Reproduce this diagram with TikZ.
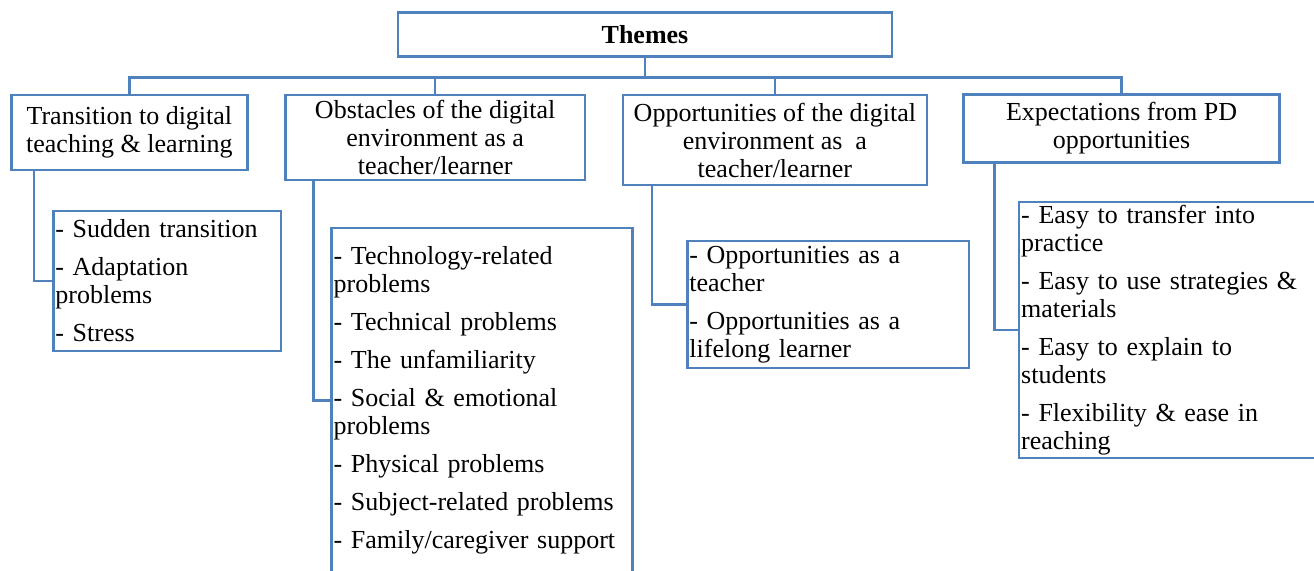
\documentclass[tikz,border=0pt]{standalone}
\usepackage{xcolor}
\usepackage{fontspec}
\setmainfont{Liberation Serif}
\usetikzlibrary{calc}

\definecolor{linkblue}{HTML}{4F81BD}

\begin{document}
\begin{tikzpicture}[
    x=1pt, y=-1pt,
    box/.style={rectangle, draw=linkblue, line width=1.25pt, fill=white, inner sep=1pt, font=\fontsize{13}{14}\selectfont},
    head/.style={box, align=center},
    itembox/.style={box, align=left},
    link/.style={draw=linkblue, line width=1.25pt}
]
\useasboundingbox (0,0) rectangle (657,285);

% Top node
\node[head, minimum width=247pt, minimum height=22pt, font=\fontsize{13}{14}\selectfont\bfseries] (themes) at (322.5,17.3) {Themes};

% Theme boxes
\node[head, minimum width=118pt, minimum height=37.5pt] (trans) at (64.7,66.25) {Transition to digital\\teaching \& learning};
\node[head, minimum width=149.8pt, minimum height=42.5pt] (obst) at (217.6,68.75) {Obstacles of the digital\\environment as a\\teacher/learner};
\node[head, minimum width=151.9pt, minimum height=45pt] (opp) at (387.45,70) {Opportunities of the digital\\environment as~ a\\teacher/learner};
\node[head, minimum width=158pt, minimum height=34pt] (expect) at (560.8,64.3) {Expectations from PD\\opportunities};

% Sub boxes
\node[itembox, text width=111.7pt, minimum height=70pt] (transsub) at (83.55,140.5) {- Sudden transition\\[5pt]- Adaptation\\problems\\[5pt]- Stress};
\node[itembox, text width=148.5pt, minimum height=172.5pt] (obstsub) at (241.05,200.15) {- Technology-related\\problems\\[5pt]- Technical problems\\[5pt]- The unfamiliarity\\[5pt]- Social \& emotional\\problems\\[5pt]- Physical problems\\[5pt]- Subject-related problems\\[5pt]- Family/caregiver support};
\node[itembox, text width=138.8pt, minimum height=63.4pt] (oppsub) at (414.1,152.2) {- Opportunities as a\\teacher\\[5pt]- Opportunities as a\\lifelong learner};
\node[itembox, text width=150pt, minimum height=128pt] (expectsub) at (585.6,164.9) {- Easy to transfer into\\practice\\[5pt]- Easy to use strategies \&\\materials\\[5pt]- Easy to explain to\\students\\[5pt]- Flexibility \& ease in\\reaching};

% Connectors - tree from the top node
\draw[link] (themes.south) -- ++(0,9.7) coordinate (bus);
\draw[link] (trans.north) |- (bus) -| (expect.north);
\draw[link] (obst.north) -- (obst.north |- bus);
\draw[link] (opp.north) -- (opp.north |- bus);

% Connectors - theme to sub box
\draw[link] ([xshift=11.8pt]trans.south west) |- (transsub.west);
\draw[link] ([xshift=14.7pt]obst.south west) |- (obstsub.west);
\draw[link] ([xshift=15pt]opp.south west) |- (oppsub.west);
\draw[link] ([xshift=16pt]expect.south west) |- (expectsub.west);

\end{tikzpicture}
\end{document}
